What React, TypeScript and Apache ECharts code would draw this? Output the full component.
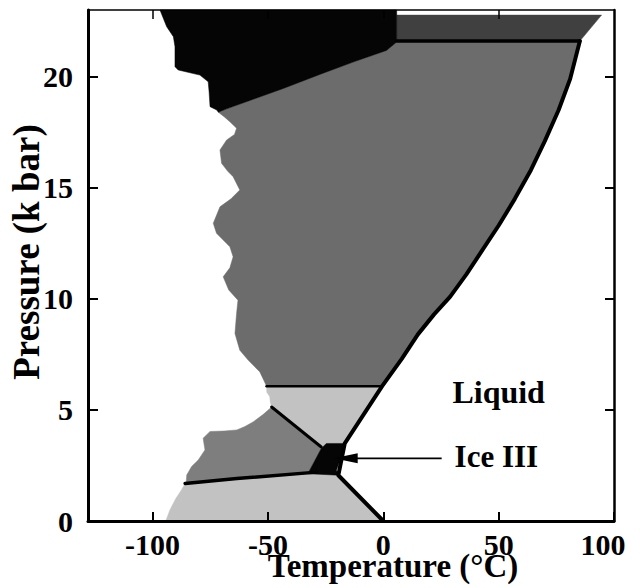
import React, { useEffect, useRef } from "react";
import * as echarts from "echarts";

// ---- Axis ticks ----
const tempTicks = [-100, -50, 0, 50, 100];
const tempTopTicks = [-100, -50, 0, 50];
const pressureTicks = [0, 5, 10, 15, 20];

// ---- Phase regions: [temperature °C, pressure kbar] ----
const iceI = [
  [-94.3, 0], [0, 0], [-19.5, 2.06], [-32.7, 2.13], [-63.5, 1.91], [-85.9, 1.69],
  [-87.5, 1.4], [-90, 1.0], [-92.5, 0.5],
];
const iceII = [
  [-85.9, 1.69], [-63.5, 1.91], [-32.7, 2.13], [-26.9, 3.26], [-48.4, 5.13],
  [-52, 4.8], [-56.3, 4.47], [-60, 4.25], [-63.5, 4.1], [-69, 4.05], [-75.1, 4.03],
  [-78.1, 3.73], [-77.3, 3.2], [-80.2, 2.75], [-83.1, 2.45], [-85.2, 2.07], [-85.4, 1.77],
];
const iceIII = [
  [-32.7, 2.13], [-26.9, 3.26], [-24.7, 3.49], [-16.7, 3.49], [-18.8, 2.73],
  [-20.3, 2.28], [-19.5, 2.06],
];
const iceV = [
  [-48.4, 5.13], [-26.9, 3.26], [-24.7, 3.49], [-16.7, 3.49], [-0.5, 6.07],
  [-50.6, 6.07], [-50.5, 5.8], [-49.2, 5.59], [-49, 5.35],
];
const meltVI = [
  [-0.5, 6.07], [8, 7.3], [15, 8.4], [22, 9.3], [29, 10.1], [36, 11.1], [43, 12.2],
  [50, 13.3], [57, 14.5], [64, 15.8], [70, 17.1], [76, 18.5], [81, 19.9], [85.2, 21.6],
];
const boundaryVI_VIII = [
  [5.8, 21.56], [1.4, 21.18], [-13, 20.66], [-27.5, 20.1], [-43.3, 19.47],
  [-57.8, 18.93], [-67.9, 18.55], [-71.5, 18.4],
];
const edgeVI = [
  [-69, 18.2], [-66.5, 17.97], [-63.6, 17.68], [-64.5, 17.4], [-67.9, 17.15],
  [-70.8, 16.7], [-70.1, 16.1], [-67.5, 15.75], [-65.1, 15.5], [-62.2, 14.9],
  [-66, 14.5], [-70.8, 14.14], [-73.7, 13.4], [-72.3, 12.95], [-66.5, 12.34],
  [-65.1, 11.89], [-66.5, 11.4], [-69.4, 10.99], [-67, 10.4], [-63, 9.94],
  [-63.6, 9.34], [-64.3, 8.44], [-62.2, 7.69], [-58.5, 7.23], [-53.5, 6.71],
  [-50.6, 6.07],
];
const iceVI = [[-50.6, 6.07], ...meltVI, ...boundaryVI_VIII, ...edgeVI];
const iceVII = [[5.8, 21.6], [85.2, 21.6], [94.6, 22.77], [5.8, 22.77]];
const iceVIII = [
  [-96.8, 23], [5.8, 23], ...boundaryVI_VIII, [-72.2, 18.5], [-75.1, 18.65],
  [-75.5, 19.3], [-75.9, 19.77], [-79.5, 20.07], [-88.9, 20.3], [-90.3, 20.45],
  [-90.3, 21.35], [-91.0, 21.8], [-93.9, 22.25],
];

// ---- Boundary lines ----
const meltLine = [[0, 0], [-19.5, 2.06], [-16.7, 3.49], ...meltVI];
const lineI_II = [[-85.9, 1.69], [-63.5, 1.91], [-28.9, 2.2]];
const lineII_V = [[-48.4, 5.13], [-26.9, 3.33]];
const lineV_VI = [[-50.6, 6.07], [-0.5, 6.07]];
const lineVI_VII = [[5.8, 21.6], [85.2, 21.6]];

// ---- Annotations ----
const arrowLine = [[25.3, 2.82], [-21.5, 2.82]];
const labelTexts = ["Liquid", "Ice III"];
const labelPoints = [[50, 5.8], [49, 2.9]];

const FONT = '"Liberation Serif", "Times New Roman", serif';

function regionSeries(points: number[][], fill: string, z: number) {
  return {
    type: "custom",
    coordinateSystem: "cartesian2d",
    data: points,
    silent: true,
    z,
    renderItem: (params: any, api: any) =>
      params.dataIndex === 0
        ? {
            type: "polygon",
            shape: { points: points.map((p) => api.coord(p)) },
            style: { fill, stroke: fill, lineWidth: 0.5 },
          }
        : null,
  };
}

function lineSeries(points: number[][], width: number) {
  return {
    type: "line",
    data: points,
    symbol: "none",
    silent: true,
    z: 6,
    lineStyle: { color: "#000", width, cap: "round", join: "round" },
  };
}

export default function App() {
  const ref = useRef<HTMLDivElement>(null);

  useEffect(() => {
    if (!ref.current) return;
    const chart = echarts.init(ref.current, undefined, { renderer: "svg" });
    const labelStyle = {
      fontFamily: FONT,
      fontSize: 30,
      fontWeight: "bold",
      color: "#000",
    };
    chart.setOption({
      animation: false,
      backgroundColor: "#fff",
      grid: {
        left: 88,
        right: 26,
        top: 10,
        bottom: 67,
        containLabel: false,
        outerBoundsMode: "none",
      },
      xAxis: [
        {
          type: "value",
          min: -128,
          max: 100,
          position: "bottom",
          z: 10,
          axisLine: { show: true, onZero: false, lineStyle: { color: "#000", width: 3 } },
          axisTick: {
            show: true,
            inside: true,
            length: 9,
            customValues: tempTicks,
            lineStyle: { color: "#000", width: 2 },
          },
          axisLabel: {
            ...labelStyle,
            margin: 8,
            customValues: tempTicks,
            formatter: (v: number) => (v === 100 ? "{s|100}" : String(v)),
            rich: { s: { ...labelStyle, padding: [0, 22, 0, 0] } },
          },
          splitLine: { show: false },
        },
        {
          type: "value",
          min: -128,
          max: 100,
          position: "top",
          z: 10,
          axisLine: { show: true, onZero: false, lineStyle: { color: "#000", width: 1.5 } },
          axisTick: {
            show: true,
            inside: true,
            length: 9,
            customValues: tempTopTicks,
            lineStyle: { color: "#000", width: 1.5 },
          },
          axisLabel: { show: false },
          splitLine: { show: false },
        },
      ],
      yAxis: [
        {
          type: "value",
          min: 0,
          max: 23,
          position: "left",
          z: 10,
          axisLine: { show: true, onZero: false, lineStyle: { color: "#000", width: 3 } },
          axisTick: {
            show: true,
            inside: true,
            length: 10,
            customValues: pressureTicks,
            lineStyle: { color: "#000", width: 2 },
          },
          axisLabel: { ...labelStyle, margin: 15, customValues: pressureTicks },
          splitLine: { show: false },
        },
        {
          type: "value",
          min: 0,
          max: 23,
          position: "right",
          z: 10,
          axisLine: { show: true, onZero: false, lineStyle: { color: "#000", width: 2.5 } },
          axisTick: {
            show: true,
            inside: true,
            length: 9,
            customValues: pressureTicks,
            lineStyle: { color: "#000", width: 2 },
          },
          axisLabel: { show: false },
          splitLine: { show: false },
        },
      ],
      graphic: [
        {
          type: "text",
          x: 393,
          y: 566,
          silent: true,
          style: {
            text: "Temperature (°C)",
            font: `bold 33px ${FONT}`,
            fill: "#000",
            align: "center",
            verticalAlign: "middle",
          },
        },
        {
          type: "text",
          x: 26.5,
          y: 252,
          rotation: Math.PI / 2,
          silent: true,
          style: {
            text: "Pressure (k bar)",
            font: `bold 37px ${FONT}`,
            fill: "#000",
            align: "center",
            verticalAlign: "middle",
          },
        },
      ],
      series: [
        regionSeries(iceI, "#c2c2c2", 2),
        regionSeries(iceII, "#7e7e7e", 2),
        regionSeries(iceV, "#c2c2c2", 2),
        regionSeries(iceVI, "#6c6c6c", 2),
        regionSeries(iceVII, "#404040", 2),
        regionSeries(iceVIII, "#050505", 3),
        regionSeries(iceIII, "#050505", 3),
        lineSeries(meltLine, 4),
        lineSeries(lineI_II, 3.5),
        lineSeries(lineII_V, 3),
        lineSeries(lineV_VI, 2.5),
        lineSeries(lineVI_VII, 3.5),
        {
          type: "custom",
          coordinateSystem: "cartesian2d",
          data: arrowLine,
          silent: true,
          z: 8,
          renderItem: (params: any, api: any) => {
            if (params.dataIndex !== 0) return null;
            const a = api.coord(arrowLine[0]);
            const b = api.coord(arrowLine[1]);
            return {
              type: "group",
              children: [
                {
                  type: "line",
                  shape: { x1: a[0], y1: a[1], x2: b[0] + 18, y2: b[1] },
                  style: { stroke: "#000", lineWidth: 1.6 },
                },
                {
                  type: "polygon",
                  shape: {
                    points: [
                      [b[0], b[1]],
                      [b[0] + 24, b[1] - 5],
                      [b[0] + 24, b[1] + 5],
                    ],
                  },
                  style: { fill: "#000" },
                },
              ],
            };
          },
        },
        {
          type: "custom",
          coordinateSystem: "cartesian2d",
          data: labelPoints,
          silent: true,
          z: 9,
          renderItem: (params: any, api: any) => {
            const c = api.coord(labelPoints[params.dataIndex]);
            return {
              type: "text",
              x: c[0],
              y: c[1],
              style: {
                text: labelTexts[params.dataIndex],
                font: `bold ${params.dataIndex === 0 ? 32 : 31}px ${FONT}`,
                fill: "#000",
                align: "center",
                verticalAlign: "middle",
              },
            };
          },
        },
      ],
    });
    return () => chart.dispose();
  }, []);

  return (
    <div
      ref={ref}
      style={{ position: "fixed", left: 0, top: 0, width: 640, height: 588, background: "#fff" }}
    />
  );
}
